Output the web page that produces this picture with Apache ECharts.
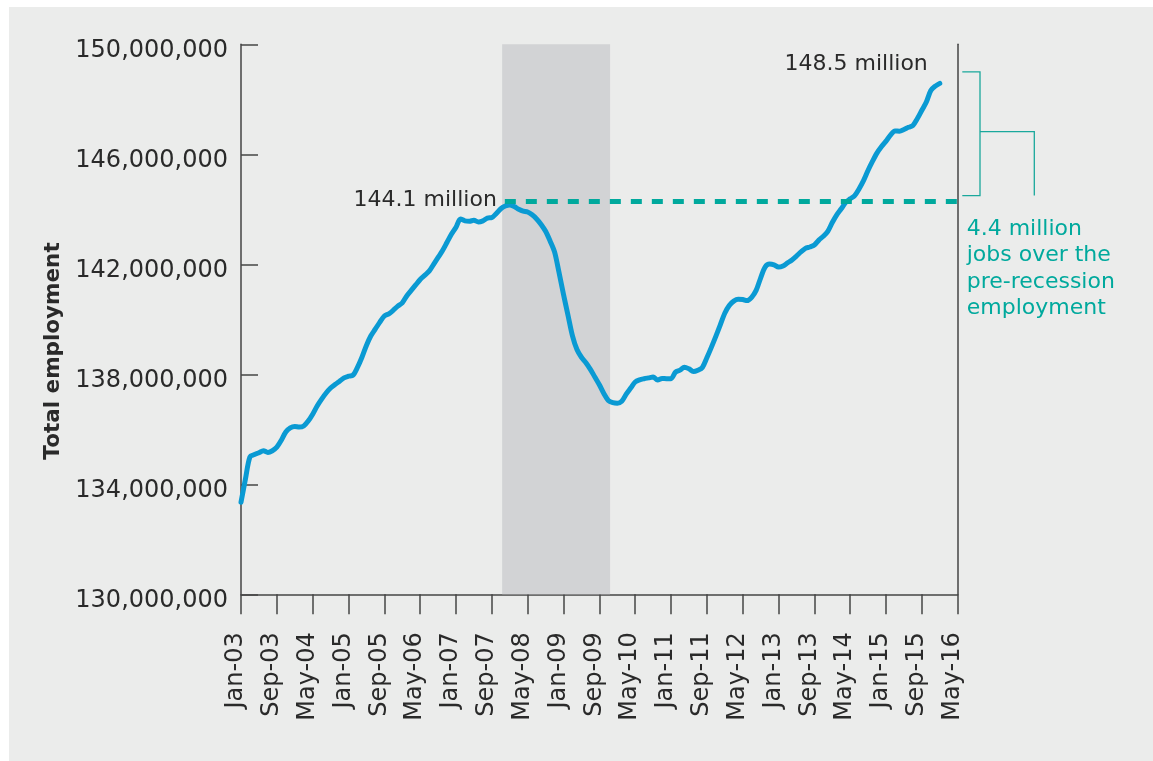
<!DOCTYPE html>
<html>
<head>
<meta charset="utf-8">
<script src="https://cdn.jsdelivr.net/npm/echarts@6/dist/echarts.min.js"></script>
<style>
  html, body { margin: 0; padding: 0; background: #ffffff; }
  #panel { position: absolute; left: 9px; top: 7px; width: 1144px; height: 754px; background: #ebeceb; }
  #chart { position: absolute; left: 0; top: 0; width: 1153px; height: 761px; }
</style>
</head>
<body>
<div id="panel"></div>
<div id="chart"></div>
<script>
// Tick labels every 8 months, Jan-03 .. May-16 (month index 0..160)
const tickLabels = ['Jan-03','Sep-03','May-04','Jan-05','Sep-05','May-06','Jan-07','Sep-07','May-08','Jan-09','Sep-09',
  'May-10','Jan-11','Sep-11','May-12','Jan-13','Sep-13','May-14','Jan-15','Sep-15','May-16'];

// Total employment in millions, monthly from Jan-03 (index 0)
const employmentMillions = [
  133.35, 134.20, 135.00, 135.08, 135.15, 135.22, 135.16, 135.22, 135.35, 135.60,
  135.90, 136.05, 136.10, 136.08, 136.12, 136.30, 136.55, 136.85, 137.10, 137.32,
  137.50, 137.63, 137.75, 137.87, 137.93, 137.97, 138.25, 138.62, 139.05, 139.40,
  139.65, 139.90, 140.12, 140.20, 140.33, 140.48, 140.60, 140.85, 141.05, 141.25,
  141.45, 141.60, 141.75, 142.00, 142.25, 142.50, 142.80, 143.10, 143.35, 143.65,
  143.58, 143.57, 143.60, 143.54, 143.58, 143.68, 143.70, 143.85, 144.02, 144.12,
  144.16, 144.10, 144.00, 143.93, 143.90, 143.80, 143.65, 143.45, 143.20, 142.85,
  142.45, 141.70, 140.90, 140.15, 139.40, 138.90, 138.62, 138.42, 138.18, 137.90,
  137.62, 137.30, 137.05, 136.97, 136.95, 137.02, 137.28, 137.50, 137.72, 137.80,
  137.84, 137.87, 137.90, 137.79, 137.85, 137.84, 137.84, 138.08, 138.15, 138.26,
  138.20, 138.10, 138.15, 138.25, 138.60, 138.98, 139.38, 139.80, 140.22, 140.50,
  140.66, 140.73, 140.72, 140.68, 140.80, 141.05, 141.50, 141.90, 142.01, 141.98,
  141.90, 141.94, 142.05, 142.16, 142.30, 142.45, 142.58, 142.63, 142.70, 142.88,
  143.02, 143.20, 143.52, 143.80, 144.02, 144.25, 144.38, 144.50, 144.75, 145.05,
  145.42, 145.75, 146.05, 146.28, 146.48, 146.70, 146.85, 146.84, 146.90, 146.98,
  147.05, 147.30, 147.60, 147.90, 148.32, 148.48, 148.58
];

// Recession shading (month index range) and pre-recession reference level
const recessionRange = [58.3, 82.4];
const preRecessionLevel = 144.28e6;
const preRecessionStart = 58.9;
const bracketTop = 149.0e6;
const bracketBottom = 144.5e6;

const FONT = '"DejaVu Sans", sans-serif';
const TEXT = '#2a2a2a';
const AXIS = '#454545';
const TEAL = '#00a99d';

const chart = echarts.init(document.getElementById('chart'), null, { renderer: 'canvas' });

const seriesData = employmentMillions.map((v, i) => [i, v * 1e6]);

chart.setOption({
  animation: false,
  backgroundColor: 'transparent',
  grid: { left: 241, right: 195.3, top: 44.3, bottom: 166.7, containLabel: false },
  xAxis: {
    type: 'value', min: 0, max: 160, interval: 8,
    axisLine: { show: true, lineStyle: { color: AXIS, width: 1.5 } },
    axisTick: { show: true, length: 20, lineStyle: { color: AXIS, width: 1.5 } },
    splitLine: { show: false },
    axisLabel: {
      rotate: 90, margin: 38, color: TEXT, fontFamily: FONT, fontSize: 24,
      verticalAlign: 'bottom', lineHeight: 10,
      formatter: v => tickLabels[Math.round(v / 8)] || ''
    }
  },
  yAxis: [{
    type: 'value', min: 130000000, max: 150000000, interval: 4000000,
    axisLine: { show: true, lineStyle: { color: AXIS, width: 1.5 } },
    axisTick: { show: true, inside: true, length: 17, lineStyle: { color: AXIS, width: 1.5 } },
    splitLine: { show: false },
    axisLabel: {
      margin: 13, color: TEXT, fontFamily: FONT, fontSize: 24, verticalAlign: 'top', lineHeight: 12,
      formatter: v => String(v).replace(/\B(?=(\d{3})+(?!\d))/g, ',')
    }
  }, {
    type: 'value', min: 130000000, max: 150000000, position: 'right',
    axisLine: { show: true, lineStyle: { color: AXIS, width: 1.5 } },
    axisTick: { show: false }, axisLabel: { show: false }, splitLine: { show: false }
  }],
  series: [{
    type: 'line',
    data: seriesData,
    showSymbol: false,
    smooth: 0.3,
    lineStyle: { color: '#0a9ad3', width: 5, cap: 'round', join: 'round' },
    z: 3,
    markArea: {
      silent: true,
      itemStyle: { color: '#d2d3d5', opacity: 1 },
      data: [[{ xAxis: recessionRange[0] }, { xAxis: recessionRange[1] }]]
    },
    markLine: {
      silent: true, symbol: 'none', animation: false,
      label: { show: false },
      lineStyle: { color: TEAL, width: 5, type: [11, 10], opacity: 1 },
      data: [[{ coord: [preRecessionStart, preRecessionLevel] }, { coord: [160, preRecessionLevel] }]]
    }
  }]
});

const px = (m, v) => chart.convertToPixel({ gridIndex: 0 }, [m, v]);
const axisRight = px(160, 0)[0];
const yTop = px(0, bracketTop)[1];
const yBot = px(0, bracketBottom)[1];
const yMid = (yTop + yBot) / 2 - 2;
const xl = axisRight + 4.6, xv = axisRight + 22.3, xr = axisRight + 76.6;
const lastPt = px(156, employmentMillions[156] * 1e6);
const peakPt = px(preRecessionStart, preRecessionLevel);

chart.setOption({
  graphic: [
    { type: 'polyline', silent: true, shape: { points: [[xl, yTop], [xv, yTop], [xv, yBot], [xl, yBot]] },
      style: { stroke: '#1aa89c', lineWidth: 1.3, fill: null } },
    { type: 'polyline', silent: true, shape: { points: [[xv, yMid], [xr, yMid], [xr, yBot]] },
      style: { stroke: '#1aa89c', lineWidth: 1.3, fill: null } },
    { type: 'text', silent: true, x: 53, y: 351, rotation: Math.PI / 2,
      style: { text: 'Total employment', font: 'bold 21.5px ' + FONT, fill: TEXT, align: 'center', verticalAlign: 'middle' } },
    { type: 'text', silent: true, x: lastPt[0] - 12, y: 64,
      style: { text: '148.5 million', font: '22px ' + FONT, fill: TEXT, align: 'right', verticalAlign: 'middle' } },
    { type: 'text', silent: true, x: peakPt[0] - 8, y: peakPt[1] - 1,
      style: { text: '144.1 million', font: '22px ' + FONT, fill: TEXT, align: 'right', verticalAlign: 'middle' } },
    { type: 'text', silent: true, x: axisRight + 9, y: 229,
      style: { text: '4.4 million\njobs over the\npre-recession\nemployment', font: '22px ' + FONT, fill: TEAL,
               align: 'left', verticalAlign: 'top', lineHeight: 26.5, y: -13 } }
  ]
});
</script>
</body>
</html>
